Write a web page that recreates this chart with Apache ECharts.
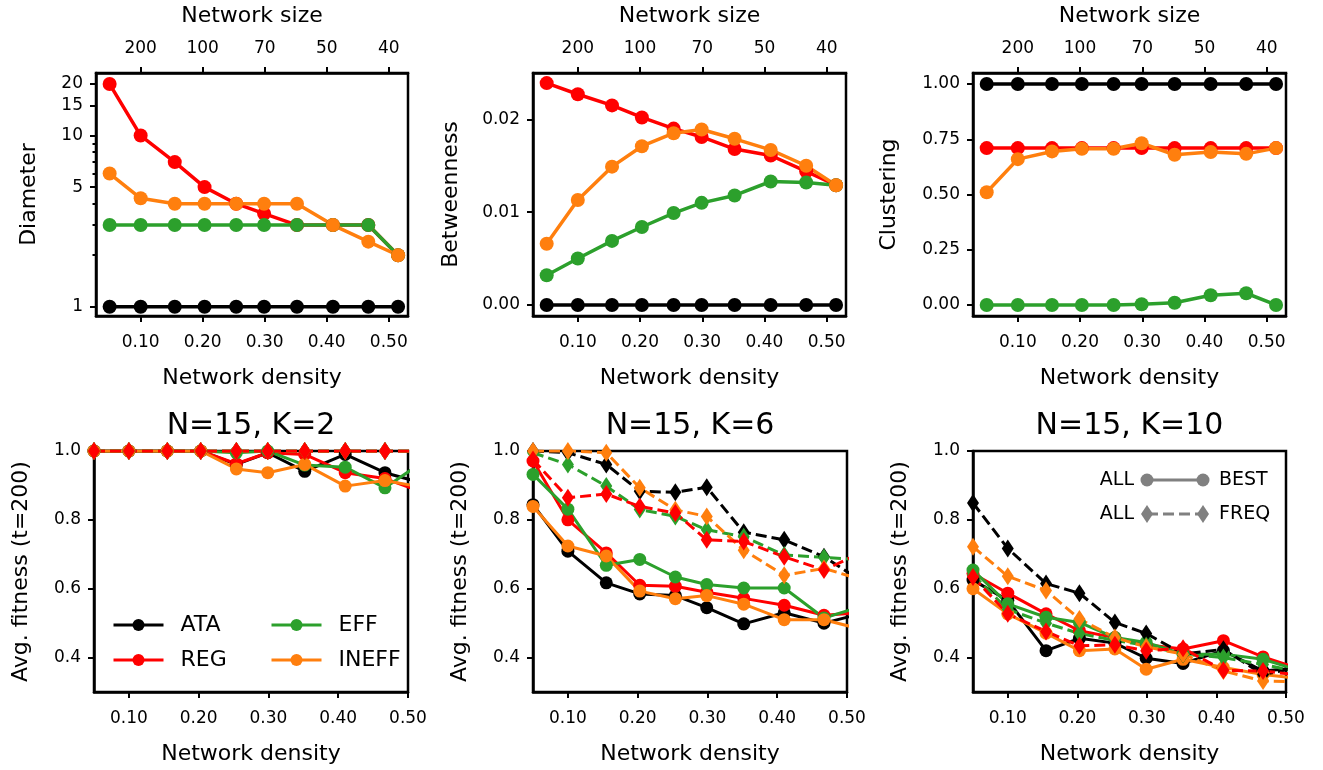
<!DOCTYPE html>
<html>
<head>
<meta charset="utf-8">
<script src="https://cdn.jsdelivr.net/npm/echarts@6.0.0/dist/echarts.min.js"></script>
<style>
  html, body { margin: 0; padding: 0; background: #fff; }
  #main { width: 1323px; height: 770px; }
</style>
</head>
<body>
<div id="main"></div>
<script>
// x values (network density) shared by every panel
const density = [0.05, 0.1, 0.155, 0.203, 0.254, 0.299, 0.352, 0.41, 0.467, 0.515];
const densityTicks = [0.1, 0.2, 0.3, 0.4, 0.5];
const sizeLabels = ['200', '100', '70', '50', '40'];

// top row: network properties
const diameterATA = [1, 1, 1, 1, 1, 1, 1, 1, 1, 1];
const diameterREG = [20, 10, 7, 5, 4, 3.5, 3, 3, 3, 2];
const diameterEFF = [3, 3, 3, 3, 3, 3, 3, 3, 3, 2];
const diameterINEFF = [6, 4.3, 4, 4, 4, 4, 4, 3, 2.4, 2];
const diameterTicks = [1, 5, 10, 15, 20];
const diameterMinor = [2, 3, 4, 6, 7, 8, 9];

const betweenATA = [0, 0, 0, 0, 0, 0, 0, 0, 0, 0];
const betweenREG = [0.0239, 0.0227, 0.0215, 0.0202, 0.0190, 0.0181, 0.0168, 0.0161, 0.0144, 0.0129];
const betweenEFF = [0.0032, 0.0050, 0.0069, 0.0084, 0.0099, 0.0110, 0.0118, 0.0133, 0.0132, 0.0129];
const betweenINEFF = [0.0066, 0.0113, 0.0149, 0.0171, 0.0185, 0.0189, 0.0179, 0.0167, 0.0150, 0.0129];
const betweenTicks = [0, 0.01, 0.02];

const clusterATA = [1, 1, 1, 1, 1, 1, 1, 1, 1, 1];
const clusterREG = [0.71, 0.71, 0.71, 0.71, 0.71, 0.71, 0.71, 0.71, 0.71, 0.71];
const clusterEFF = [0, 0, 0, 0, 0, 0.003, 0.01, 0.044, 0.053, 0];
const clusterINEFF = [0.51, 0.66, 0.695, 0.707, 0.707, 0.732, 0.68, 0.692, 0.684, 0.71];
const clusterTicks = [0, 0.25, 0.5, 0.75, 1];

// bottom row: avg. fitness, BEST (solid) and FREQ (dashed)
const k2BestATA = [1, 1, 1, 1, 0.961, 0.995, 0.941, 0.99, 0.937, 0.91];
const k2BestREG = [1, 1, 1, 1, 0.963, 0.995, 0.99, 0.937, 0.92, 0.885];
const k2BestEFF = [1, 1, 1, 1, 0.995, 1, 0.959, 0.953, 0.893, 0.96];
const k2BestINEFF = [1, 1, 1, 1, 0.948, 0.937, 0.961, 0.898, 0.914, 0.897];
const k2FreqATA = [1, 1, 1, 1, 1, 1, 1, 1, 1, 1];
const k2FreqREG = [1, 1, 1, 1, 1, 1, 1, 1, 1, 1];
const k2FreqEFF = [1, 1, 1, 1, 1, 1, 1, 1, 1, 1];
const k2FreqINEFF = [1, 1, 1, 1, 1, 1, 1, 1, 1, 1];

const k6BestATA = [0.844, 0.709, 0.617, 0.585, 0.58, 0.545, 0.498, 0.53, 0.5, 0.525];
const k6BestREG = [0.971, 0.8, 0.704, 0.61, 0.607, 0.59, 0.572, 0.552, 0.523, 0.53];
const k6BestEFF = [0.932, 0.831, 0.668, 0.685, 0.634, 0.612, 0.602, 0.602, 0.515, 0.545];
const k6BestINEFF = [0.839, 0.724, 0.695, 0.593, 0.571, 0.58, 0.555, 0.51, 0.51, 0.485];
const k6FreqATA = [1, 0.995, 0.961, 0.883, 0.88, 0.895, 0.764, 0.742, 0.693, 0.63];
const k6FreqREG = [0.975, 0.864, 0.875, 0.839, 0.82, 0.742, 0.737, 0.693, 0.654, 0.7];
const k6FreqEFF = [0.995, 0.961, 0.898, 0.83, 0.81, 0.771, 0.751, 0.698, 0.691, 0.685];
const k6FreqINEFF = [1, 1, 0.995, 0.893, 0.829, 0.81, 0.712, 0.639, 0.659, 0.63];

const k10BestATA = [0.625, 0.566, 0.42, 0.456, 0.442, 0.398, 0.383, 0.42, 0.361, 0.37];
const k10BestREG = [0.644, 0.587, 0.527, 0.478, 0.458, 0.437, 0.425, 0.449, 0.402, 0.37];
const k10BestEFF = [0.654, 0.556, 0.517, 0.502, 0.458, 0.444, 0.41, 0.41, 0.395, 0.365];
const k10BestINEFF = [0.6, 0.527, 0.471, 0.42, 0.425, 0.366, 0.395, 0.371, 0.351, 0.34];
const k10FreqATA = [0.849, 0.717, 0.615, 0.587, 0.502, 0.47, 0.41, 0.424, 0.351, 0.37];
const k10FreqREG = [0.634, 0.527, 0.476, 0.434, 0.437, 0.42, 0.427, 0.363, 0.361, 0.35];
const k10FreqEFF = [0.64, 0.54, 0.5, 0.47, 0.45, 0.435, 0.41, 0.4, 0.38, 0.36];
const k10FreqINEFF = [0.722, 0.636, 0.595, 0.512, 0.458, 0.431, 0.41, 0.361, 0.332, 0.33];
const fitnessTicks = [0.4, 0.6, 0.8, 1.0];

const titles = ['N=15, K=2', 'N=15, K=6', 'N=15, K=10'];

const FONT = 'DejaVu Sans';
const colors = { ATA: '#000000', REG: '#ff0000', EFF: '#2ca02c', INEFF: '#ff7f0e' };
const GREY = '#808080';

let chart = echarts.init(document.getElementById('main'), null, { renderer: 'canvas' });

// grids (top row then bottom row)
const grids = [
  { left: 96, top: 73, width: 312, height: 243 },
  { left: 533, top: 73, width: 313, height: 243 },
  { left: 973, top: 73, width: 313, height: 243 },
  { left: 94, top: 451, width: 314, height: 241 },
  { left: 533, top: 451, width: 314, height: 241 },
  { left: 973, top: 451, width: 313, height: 241 }
].map(g => Object.assign({ show: true, borderColor: '#000', borderWidth: 2.5, containLabel: false }, g));

function tickStyle(len) {
  return { show: true, inside: false, length: len, lineStyle: { color: '#000', width: 2 } };
}

function xDensity(gridIndex, min, max) {
  return {
    type: 'value', gridIndex, position: 'bottom', min, max,
    name: 'Network density', nameLocation: 'middle', nameGap: 51,
    nameTextStyle: { fontFamily: FONT, fontSize: 22, color: '#000' },
    axisLine: { show: true, onZero: false, lineStyle: { color: '#000', width: 2.5 } },
    axisTick: Object.assign(tickStyle(6), { customValues: densityTicks }),
    axisLabel: {
      fontFamily: FONT, fontSize: 17, color: '#000', margin: 18,
      customValues: densityTicks, formatter: v => v.toFixed(2)
    },
    splitLine: { show: false }
  };
}

function xSize(gridIndex, min, max) {
  return {
    type: 'value', gridIndex, position: 'top', min, max,
    name: 'Network size', nameLocation: 'middle', nameGap: 46,
    nameTextStyle: { fontFamily: FONT, fontSize: 22, color: '#000' },
    axisLine: { show: true, onZero: false, lineStyle: { color: '#000', width: 2.5 } },
    axisTick: Object.assign(tickStyle(6), { customValues: densityTicks }),
    axisLabel: {
      fontFamily: FONT, fontSize: 17, color: '#000', margin: 16,
      customValues: densityTicks, formatter: v => sizeLabels[Math.round(v * 10) - 1]
    },
    splitLine: { show: false }
  };
}

function yValue(gridIndex, min, max, ticks, fmt, name, gap) {
  return {
    type: 'value', gridIndex, position: 'left', min, max,
    name, nameLocation: 'middle', nameGap: gap, nameRotate: 90,
    nameTextStyle: { fontFamily: FONT, fontSize: 22, color: '#000' },
    axisLine: { show: true, onZero: false, lineStyle: { color: '#000', width: 2.5 } },
    axisTick: Object.assign(tickStyle(6), { customValues: ticks }),
    axisLabel: {
      fontFamily: FONT, fontSize: 17, color: '#000', margin: 13,
      customValues: ticks, formatter: fmt
    },
    splitLine: { show: false }
  };
}

const topMin = 0.028, topMax = 0.531;
const xAxes = [
  xDensity(0, topMin, topMax), xSize(0, topMin, topMax),
  xDensity(1, topMin, topMax), xSize(1, topMin, topMax),
  xDensity(2, topMin, topMax), xSize(2, topMin, topMax),
  xDensity(3, 0.05, 0.5), xDensity(4, 0.05, 0.5), xDensity(5, 0.05, 0.5)
];

// diameter is on a log scale: the axis holds log10 values
const logMin = Math.log10(0.883), logMax = Math.log10(23.2);
const yAxes = [
  yValue(0, logMin, logMax, diameterTicks.map(Math.log10),
    v => String(Math.round(Math.pow(10, v))), 'Diameter', 56),
  {
    type: 'value', gridIndex: 0, position: 'left', min: logMin, max: logMax,
    axisLine: { show: false }, axisLabel: { show: false }, splitLine: { show: false },
    axisTick: Object.assign(tickStyle(3.5), { customValues: diameterMinor.map(Math.log10) })
  },
  yValue(1, -0.00119, 0.02499, betweenTicks, v => v.toFixed(2), 'Betweenness', 71),
  yValue(2, -0.05, 1.05, clusterTicks, v => v.toFixed(2), 'Clustering', 73),
  yValue(3, 0.3, 1.0, fitnessTicks, v => v.toFixed(1), 'Avg. fitness (t=200)', 62),
  yValue(4, 0.3, 1.0, fitnessTicks, v => v.toFixed(1), 'Avg. fitness (t=200)', 62),
  yValue(5, 0.3, 1.0, fitnessTicks, v => v.toFixed(1), 'Avg. fitness (t=200)', 62)
];

function line(name, values, xi, yi, color, o) {
  return {
    type: 'line', name, xAxisIndex: xi, yAxisIndex: yi,
    data: density.map((d, i) => [d, o.log ? Math.log10(values[i]) : values[i]]),
    symbol: o.symbol || 'circle', symbolSize: o.size, showSymbol: true,
    lineStyle: { color, width: o.width, type: o.dash ? [11, 5] : 'solid' },
    itemStyle: { color },
    emphasis: { disabled: true },
    clip: true, animation: false
  };
}

const series = [];
const topStyle = { size: 14, width: 3.5 };
[
  [0, 0, [diameterATA, diameterREG, diameterEFF, diameterINEFF], true],
  [2, 2, [betweenATA, betweenREG, betweenEFF, betweenINEFF], false],
  [4, 3, [clusterATA, clusterREG, clusterEFF, clusterINEFF], false]
].forEach(([xi, yi, sets, log]) => {
  ['ATA', 'REG', 'EFF', 'INEFF'].forEach((k, i) => {
    series.push(line(k, sets[i], xi, yi, colors[k], Object.assign({ log }, topStyle)));
  });
});

const bestStyle = { size: 13, width: 3 };
const freqStyle = { size: [12, 18], width: 3, symbol: 'diamond', dash: true };
[
  [6, 4, { ATA: k2BestATA, REG: k2BestREG, EFF: k2BestEFF, INEFF: k2BestINEFF },
         { ATA: k2FreqATA, REG: k2FreqREG, EFF: k2FreqEFF, INEFF: k2FreqINEFF }],
  [7, 5, { ATA: k6BestATA, REG: k6BestREG, EFF: k6BestEFF, INEFF: k6BestINEFF },
         { ATA: k6FreqATA, REG: k6FreqREG, EFF: k6FreqEFF, INEFF: k6FreqINEFF }],
  [8, 6, { ATA: k10BestATA, REG: k10BestREG, EFF: k10BestEFF, INEFF: k10BestINEFF },
         { ATA: k10FreqATA, REG: k10FreqREG, EFF: k10FreqEFF, INEFF: k10FreqINEFF }]
].forEach(([xi, yi, best, freq]) => {
  ['ATA', 'REG', 'EFF', 'INEFF'].forEach(k => {
    series.push(line(k, best[k], xi, yi, colors[k], bestStyle));
  });
  ['ATA', 'EFF', 'INEFF', 'REG'].forEach(k => {
    series.push(line(k + ' FREQ', freq[k], xi, yi, colors[k], freqStyle));
  });
});

const legendText = { fontFamily: FONT, fontSize: 22, color: '#000', padding: [0, 0, 0, 12] };
const legends = [
  { data: ['ATA', 'REG'], left: 112 },
  { data: ['EFF', 'INEFF'], left: 270 }
].map(l => Object.assign({
  orient: 'vertical', top: 614, itemWidth: 50, itemHeight: 15, itemGap: 13,
  selectedMode: false, textStyle: legendText, padding: 0,
  lineStyle: { width: 3 }
}, l));

// key for line styles (BEST solid circles, FREQ dashed diamonds)
const key = { x0: 1147, x1: 1203, rows: [480, 514] };
function diamond(cx, cy) {
  return { type: 'polygon', shape: { points: [[cx, cy - 9], [cx + 6, cy], [cx, cy + 9], [cx - 6, cy]] }, style: { fill: GREY } };
}
function keyText(text, x, y, align) {
  return { type: 'text', x, y, style: { text, fill: '#000', font: '19px "DejaVu Sans"', align, verticalAlign: 'middle' } };
}
const graphic = [
  keyText('ALL', key.x0 - 13, key.rows[0], 'right'),
  { type: 'line', shape: { x1: key.x0, y1: key.rows[0], x2: key.x1, y2: key.rows[0] }, style: { stroke: GREY, lineWidth: 3 } },
  { type: 'circle', shape: { cx: key.x0, cy: key.rows[0], r: 6.5 }, style: { fill: GREY } },
  { type: 'circle', shape: { cx: key.x1, cy: key.rows[0], r: 6.5 }, style: { fill: GREY } },
  keyText('BEST', key.x1 + 16, key.rows[0], 'left'),
  keyText('ALL', key.x0 - 13, key.rows[1], 'right'),
  { type: 'line', shape: { x1: key.x0, y1: key.rows[1], x2: key.x1, y2: key.rows[1] }, style: { stroke: GREY, lineWidth: 3, lineDash: [11, 5] } },
  diamond(key.x0, key.rows[1]),
  diamond(key.x1, key.rows[1]),
  keyText('FREQ', key.x1 + 16, key.rows[1], 'left')
];

const titleCenters = [251, 690, 1129.5];
const title = titles.map((t, i) => ({
  text: t, left: titleCenters[i], top: 411, textAlign: 'center', padding: 0,
  textStyle: { fontFamily: FONT, fontSize: 30, fontWeight: 'normal', color: '#000' }
}));

chart.setOption({
  backgroundColor: '#fff',
  animation: false,
  title,
  grid: grids,
  xAxis: xAxes,
  yAxis: yAxes,
  legend: legends,
  graphic,
  series
});
</script>
</body>
</html>
